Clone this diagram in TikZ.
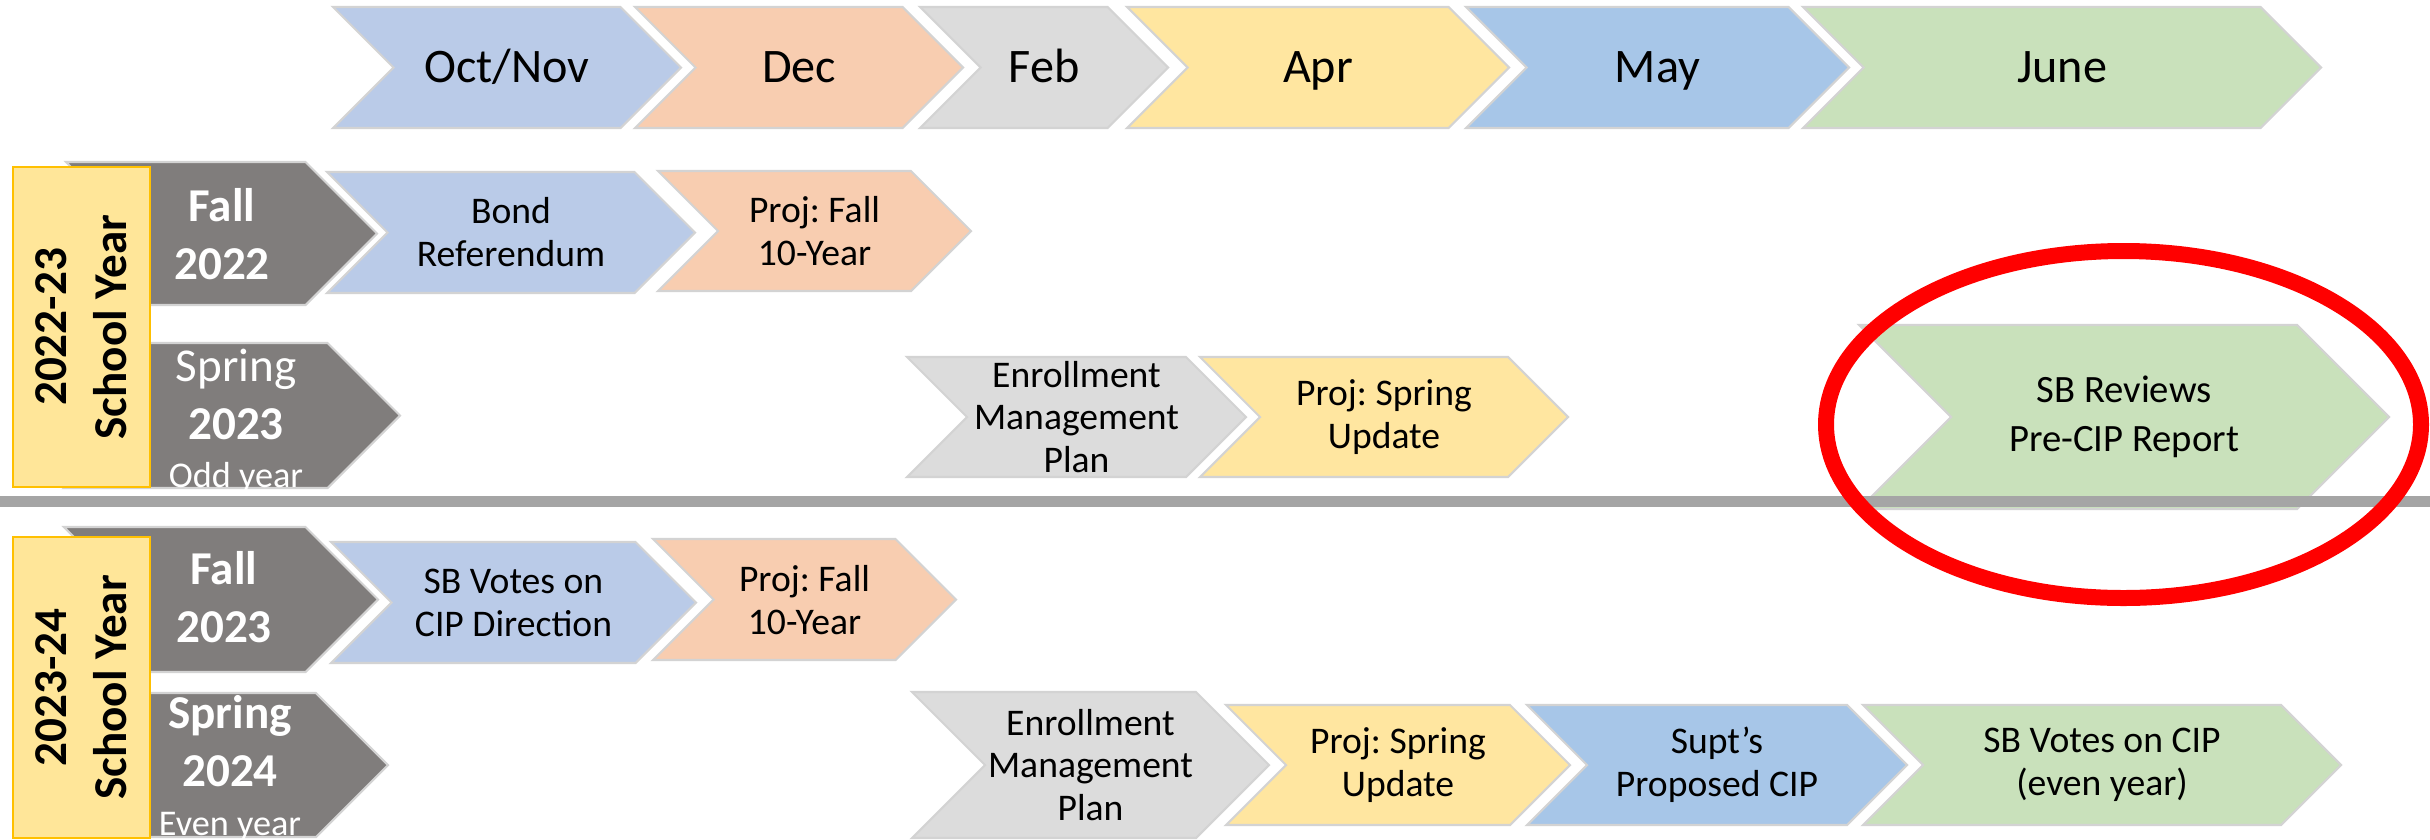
\documentclass[tikz,border=0pt]{standalone}
\usepackage{fontspec}
\setmainfont{Carlito}
\frenchspacing
\definecolor{octnov}{HTML}{BACBE8}
\definecolor{decpeach}{HTML}{F8CDB0}
\definecolor{febgray}{HTML}{DCDCDC}
\definecolor{apryellow}{HTML}{FFE6A0}
\definecolor{mayblue}{HTML}{A7C6E8}
\definecolor{junegreen}{HTML}{C9E1BB}
\definecolor{seasongray}{HTML}{807D7C}
\definecolor{boxyellow}{HTML}{FFE699}
\definecolor{boxorange}{HTML}{FFC000}
\definecolor{sepgray}{HTML}{A5A5A5}
\definecolor{rimgray}{HTML}{D3D3D3}
\tikzset{chevedge/.style={draw=rimgray, line width=0.6pt}}
\tikzset{month/.style={text height=8.8pt, text depth=0pt, font=\fontsize{13.7}{16.4}\selectfont}}
\tikzset{item/.style={align=center, font=\fontsize{10.7}{12.2}\selectfont}}
\tikzset{season/.style={align=center, text=white, font=\bfseries\fontsize{13.4}{16.5}\selectfont}}
\tikzset{yearnote/.style={anchor=base, text=white, font=\fontsize{10.3}{12}\selectfont}}
\tikzset{yearbox/.style={fill=boxyellow, draw=boxorange, line width=0.6pt}}
\tikzset{yeartext/.style={rotate=90, align=center, font=\bfseries\fontsize{13.4}{17}\selectfont}}
\tikzset{redring/.style={draw=red, line width=4.55pt}}
\newcommand{\drawchevron}[5]{\filldraw[chevedge, #5] (#1,#3) -- ({#2-(#4-#3)/2},#3) -- (#2,{(#3+#4)/2}) -- ({#2-(#4-#3)/2},#4) -- (#1,#4) -- ({#1+(#4-#3)/2},{(#3+#4)/2}) -- cycle}

\begin{document}
\begin{tikzpicture}[x=0.01cm, y=-0.01cm]
		\useasboundingbox (0,0) rectangle (2430,839);

		% Months
		\drawchevron{333}{681}{7}{128}{fill=octnov};
		\drawchevron{635}{963}{7}{128}{fill=decpeach};
		\drawchevron{920}{1168}{7}{128}{fill=febgray};
		\drawchevron{1127}{1509}{7}{128}{fill=apryellow};
		\drawchevron{1466}{1849}{7}{128}{fill=mayblue};
		\drawchevron{1803}{2321}{7}{128}{fill=junegreen};
		\node[month] (oct) at (507,67.5) {Oct/Nov};
		\node[month] (dec) at (799,67.5) {Dec};
		\node[month] (feb) at (1044,67.5) {Feb};
		\node[month] (apr) at (1318,67.5) {Apr};
		\node[month] (may) at (1657.5,67.5) {May};
		\node[month] (june) at (2062,67.5) {June};

		% Seasons
		\drawchevron{66}{377}{162}{305}{fill=seasongray};
		\drawchevron{64}{400}{343}{488}{fill=seasongray};
		\drawchevron{64}{378}{527}{672}{fill=seasongray};
		\drawchevron{64}{388}{693}{837}{fill=seasongray};
		\node[season] (fall22) at (222,234) {Fall\\2022};
		\node[season, font=\fontsize{13.4}{16.5}\selectfont] (spring23) at (236,394) {Spring\\\textbf{2023}};
		\node[yearnote] (odd) at (236,487) {Odd year};
		\node[season] (fall23) at (224,597) {Fall\\2023};
		\node[season] (spring24) at (230,741) {Spring\\2024};
		\node[yearnote] (even) at (230,835) {Even year};

		% School years
		\filldraw[yearbox] (13,167) rectangle (150,487);
		\filldraw[yearbox] (13,537) rectangle (150,838);
		\node[yeartext] (sy22) at (81.5,327) {2022-23\\School Year};
		\node[yeartext] (sy23) at (81.5,687.5) {2023-24\\School Year};

		% 2022-23 steps
		\drawchevron{327}{695}{172}{293}{fill=octnov};
		\drawchevron{658}{971}{171}{291}{fill=decpeach};
		\drawchevron{907}{1246}{357}{477}{fill=febgray};
		\drawchevron{1200}{1568}{357}{477}{fill=apryellow};
		\drawchevron{1859}{2389}{325}{509}{fill=junegreen};
		\node[item] (bond) at (511,232.5) {Bond\\Referendum};
		\node[item] (projfall) at (814.5,231) {Proj: Fall\\10-Year};
		\node[item] (enroll) at (1076.5,417) {Enrollment\\Management\\Plan};
		\node[item] (projspring) at (1384,417) {Proj: Spring\\Update};
		\node[item, font=\fontsize{11}{14}\selectfont] (review) at (2124,417) {SB Reviews\\Pre-CIP Report};

		% Divider
		\fill[sepgray] (0,496) rectangle (2430,507);

		% 2023-24 steps
		\drawchevron{331}{696}{542}{663}{fill=octnov};
		\drawchevron{653}{956}{539}{660}{fill=decpeach};
		\drawchevron{912}{1269}{692}{838}{fill=febgray};
		\drawchevron{1226}{1570}{705}{825}{fill=apryellow};
		\drawchevron{1527}{1907}{705}{825}{fill=mayblue};
		\drawchevron{1863}{2341}{705}{825}{fill=junegreen};
		\node[item] (direction) at (513.5,602.5) {SB Votes on\\CIP Direction};
		\node[item] (projfalltwo) at (804.5,600) {Proj: Fall\\10-Year};
		\node[item] (enrolltwo) at (1090.5,765) {Enrollment\\Management\\Plan};
		\node[item] (projspringtwo) at (1398,765) {Proj: Spring\\Update};
		\node[item] (supt) at (1717,765) {Supt’s\\Proposed CIP};
		\node[item] (votecip) at (2102,765) {SB Votes on CIP\\(even year)};

		% Highlight
		\draw[redring] (2123.5,424.5) ellipse [x radius=297.5, y radius=173.5];
	\end{tikzpicture}
\end{document}
